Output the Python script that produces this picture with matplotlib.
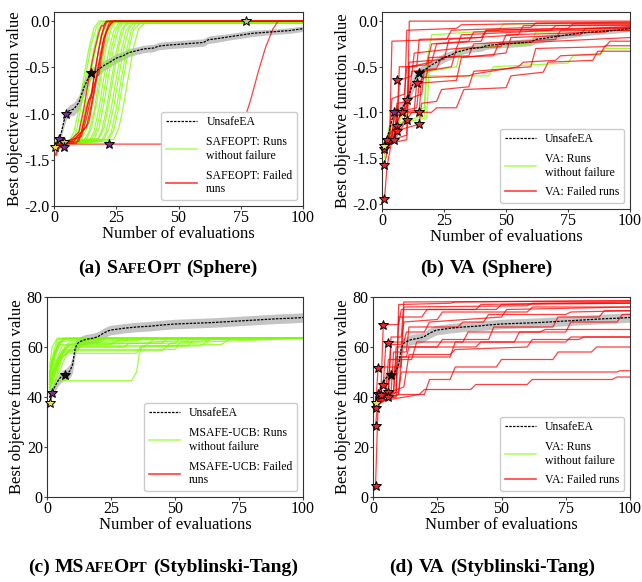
import numpy as np
import matplotlib
matplotlib.use("Agg")
import matplotlib.pyplot as plt
from matplotlib.lines import Line2D
from matplotlib.offsetbox import TextArea, HPacker, AnnotationBbox, DrawingArea

plt.rcParams['font.family'] = ['Liberation Serif', 'DejaVu Serif']
plt.rcParams['axes.unicode_minus'] = False

# ---------------- data ----------------
# UnsafeEA mean / spread, Sphere
sph_x = [1, 2, 3, 4, 5, 6, 8, 10, 11, 12, 13, 14, 15, 16, 18, 20, 22, 25, 28, 30, 33, 36, 40, 42, 45,
         50, 55, 60, 62, 65, 70, 75, 80, 85, 90, 95, 100]
sph_mean = [-1.36, -1.28, -1.2, -1.08, -1.0, -0.97, -0.95, -0.88, -0.8, -0.72, -0.66, -0.6, -0.57, -0.55,
            -0.52, -0.48, -0.45, -0.4, -0.37, -0.34, -0.32, -0.3, -0.29, -0.27, -0.26, -0.25, -0.24, -0.23,
            -0.2, -0.19, -0.17, -0.15, -0.13, -0.12, -0.11, -0.1, -0.08]
sph_sd = [0.02, 0.03, 0.05, 0.06, 0.06, 0.06, 0.07, 0.08, 0.09, 0.09, 0.08, 0.07, 0.06, 0.06, 0.06, 0.055,
          0.05, 0.05, 0.045, 0.045, 0.04, 0.04, 0.04, 0.04, 0.04, 0.04, 0.04, 0.04, 0.04, 0.04, 0.035, 0.035,
          0.035, 0.03, 0.03, 0.03, 0.03]

# UnsafeEA mean / spread, Styblinski-Tang
st_x = [1, 2, 3, 4, 5, 6, 7, 8, 9, 10, 11, 12, 13, 15, 18, 20, 22, 24, 25, 28, 30, 35, 40, 45, 50, 55,
        60, 65, 70, 75, 80, 85, 90, 95, 100]
st_mean = [37.7, 41.7, 44, 46, 47.5, 48.5, 49, 49.5, 50.5, 53, 59.5, 61.5, 62.2, 63, 63.5, 64.2, 65.5,
           66.5, 66.8, 67.2, 67.5, 68, 68.3, 68.8, 69.2, 69.4, 69.6, 69.8, 70.1, 70.4, 70.7, 71, 71.3,
           71.5, 71.8]
st_sd = [1, 1.5, 2, 2, 2.2, 2.2, 2.2, 2.4, 2.8, 3.2, 2.8, 2.2, 2, 2, 2, 2, 2, 2, 1.9, 1.9, 1.9, 1.9, 1.9,
         1.9, 1.9, 1.9, 1.9, 1.9, 1.9, 1.9, 1.9, 1.9, 1.9, 1.9, 1.9]

# (a) SafeOpt on Sphere
a_green_runs = [
    [(1, -1.33), (6, -1.3), (8, -1.2), (10, -0.95), (12, -0.6), (14, -0.3), (16, -0.08), (18, 0.0), (100, 0.0)],
    [(1, -1.35), (7, -1.31), (9, -1.2), (11, -0.9), (13, -0.55), (15, -0.25), (17, -0.07), (19, 0.0), (100, 0.0)],
    [(1, -1.32), (8, -1.3), (10, -1.18), (12, -0.92), (14, -0.6), (16, -0.3), (18, -0.08), (20, -0.01), (100, -0.01)],
    [(1, -1.3), (9, -1.28), (11, -1.15), (13, -0.9), (15, -0.55), (17, -0.25), (19, -0.06), (21, 0.0), (100, 0.0)],
    [(1, -1.34), (4, -1.3), (10, -1.29), (12, -1.18), (14, -0.95), (16, -0.62), (18, -0.3), (20, -0.1), (22, -0.01), (100, -0.01)],
    [(1, -1.31), (11, -1.28), (13, -1.17), (15, -0.92), (17, -0.6), (19, -0.3), (21, -0.09), (23, -0.01), (100, -0.01)],
    [(1, -1.33), (5, -1.3), (12, -1.29), (14, -1.2), (16, -0.98), (18, -0.65), (20, -0.33), (22, -0.1), (24, -0.01), (100, -0.01)],
    [(1, -1.3), (13, -1.28), (15, -1.16), (17, -0.9), (19, -0.58), (21, -0.27), (23, -0.08), (25, 0.0), (100, 0.0)],
    [(1, -1.32), (14, -1.3), (16, -1.2), (18, -0.95), (20, -0.62), (22, -0.32), (24, -0.1), (26, -0.02), (100, -0.02)],
    [(1, -1.34), (6, -1.31), (15, -1.29), (17, -1.18), (19, -0.93), (21, -0.6), (23, -0.3), (25, -0.09), (27, -0.01), (100, -0.01)],
    [(1, -1.3), (16, -1.28), (18, -1.17), (20, -0.9), (22, -0.58), (24, -0.28), (26, -0.08), (28, 0.0), (100, 0.0)],
    [(1, -1.33), (17, -1.3), (19, -1.2), (21, -0.96), (23, -0.64), (25, -0.33), (27, -0.1), (29, -0.02), (100, -0.02)],
    [(1, -1.31), (8, -1.28), (18, -1.27), (20, -1.16), (22, -0.9), (24, -0.58), (26, -0.28), (28, -0.08), (30, -0.01), (100, -0.01)],
    [(1, -1.32), (19, -1.3), (21, -1.19), (23, -0.94), (25, -0.62), (27, -0.32), (29, -0.1), (31, -0.02), (100, -0.02)],
    [(1, -1.3), (20, -1.28), (22, -1.17), (24, -0.92), (26, -0.6), (28, -0.3), (30, -0.09), (32, -0.01), (100, -0.01)],
    [(1, -1.33), (21, -1.3), (23, -1.2), (25, -0.95), (27, -0.63), (29, -0.33), (31, -0.1), (33, -0.02), (100, -0.02)],
    [(1, -1.31), (22, -1.28), (24, -1.18), (26, -0.93), (28, -0.6), (30, -0.3), (32, -0.09), (35, -0.01), (100, -0.01)],
    [(1, -1.3), (24, -1.28), (26, -1.16), (28, -0.9), (30, -0.58), (32, -0.28), (34, -0.08), (37, -0.01), (100, -0.01)],
]
a_red_runs = [
    [(1, -1.45), (2, -1.33), (9, -1.32), (11, -1.2), (13, -0.95), (14, -0.85), (15, -0.78), (17, -0.45), (19, -0.15), (21, -0.02), (22, 0.0), (100, 0.0)],
    [(1, -1.38), (4, -1.33), (10, -1.3), (12, -1.1), (14, -0.85), (15, -0.82), (16, -0.62), (18, -0.3), (20, -0.05), (21, 0.0), (100, 0.0)],
    [(1, -1.35), (5, -1.3), (11, -1.25), (13, -1.05), (15, -0.8), (16, -0.7), (17, -0.62), (18, -0.45), (20, -0.18), (22, -0.03), (23, 0.0), (100, 0.0)],
    [(1, -1.4), (6, -1.3), (10, -1.2), (12, -0.95), (14, -0.62), (16, -0.35), (18, -0.12), (19, -0.05), (20, -0.05), (21, 0.0), (100, 0.0)],
    [(1, -1.36), (7, -1.3), (13, -1.15), (15, -0.9), (17, -0.6), (18, -0.58), (19, -0.4), (21, -0.12), (23, -0.02), (24, 0.0), (100, 0.0)],
    [(1, -1.33), (8, -1.3), (14, -1.1), (16, -0.8), (18, -0.5), (20, -0.2), (22, -0.05), (24, 0.0), (100, 0.0)],
    [(0.5, -1.45), (2, -1.33), (70, -1.33), (73, -1.25), (76, -1.1), (79, -0.85), (82, -0.55), (85, -0.28), (88, -0.08), (90, 0.0), (100, 0.0)],
]
a_stars = [(0.5, -1.36, '#f0e442'), (2, -1.27, '#7b2d8e'), (4, -1.31, '#c9c36a'), (4, -1.36, '#7b2d8e'),
           (5, -1.0, '#7b2d8e'), (15, -0.56, '#111111'), (22, -1.33, '#7b2d8e'), (77, 0.0, '#c9c36a')]

# (b) VA on Sphere
b_green_runs = [
    [(1, -1.5), (3, -1.15), (15, -1.05), (17, -1.05), (18, -0.6), (43, -0.6), (45, -0.5), (75, -0.46), (77, -0.38), (88, -0.37), (90, -0.3), (100, -0.3)],
    [(1, -1.42), (8, -1.05), (17, -0.95), (18, -0.45), (20, -0.15), (47, -0.1), (49, -0.03), (100, -0.02)],
    [(1, -1.45), (3, -1.15), (18, -1.06), (19, -0.55), (30, -0.5), (32, -0.3), (60, -0.25), (62, -0.12), (100, -0.1)],
]
b_red_runs = [
    [(1, -1.35), (10, -1.3), (11, 0.0), (100, 0.0)],
    [(1, -1.4), (3, -1.38), (4, -0.22), (26, -0.2), (28, -0.1), (60, -0.07), (62, -0.02), (100, -0.02)],
    [(1, -1.95), (2, -1.6), (4, -1.3), (10, -1.25), (11, -0.5), (20, -0.45), (22, -0.25), (40, -0.22), (42, -0.1), (75, -0.08), (77, -0.03), (100, -0.03)],
    [(1, -1.58), (3, -1.3), (6, -1.2), (7, -0.65), (12, -0.6), (13, -0.35), (30, -0.3), (32, -0.15), (100, -0.06)],
    [(1, -1.4), (5, -1.3), (6, -1.0), (14, -0.95), (15, -0.68), (30, -0.65), (32, -0.4), (50, -0.35), (52, -0.18), (80, -0.15), (82, -0.08), (100, -0.08)],
    [(1, -1.37), (4, -1.3), (5, -1.0), (10, -0.95), (11, -0.45), (25, -0.42), (27, -0.2), (55, -0.15), (57, -0.05), (100, -0.04)],
    [(1, -1.3), (3, -1.25), (4, -0.85), (9, -0.8), (10, -0.5), (18, -0.48), (20, -0.25), (35, -0.22), (37, -0.12), (68, -0.1), (70, -0.05), (100, -0.05)],
    [(1, -1.45), (6, -1.2), (15, -1.13), (16, -0.9), (22, -0.88), (24, -0.75), (35, -0.72), (37, -0.55), (60, -0.5), (62, -0.3), (90, -0.28), (92, -0.22), (100, -0.22)],
    [(1, -1.4), (5, -1.3), (10, -1.08), (12, -1.0), (20, -1.0), (22, -0.95), (30, -0.95), (33, -0.75), (50, -0.73), (52, -0.6), (65, -0.56), (67, -0.45), (85, -0.43), (87, -0.33), (100, -0.33)],
    [(1, -1.35), (8, -1.0), (15, -1.0), (16, -0.62), (35, -0.6), (37, -0.58), (55, -0.5), (57, -0.45), (70, -0.43), (72, -0.38), (88, -0.36), (90, -0.27), (100, -0.27)],
    [(1, -1.3), (2, -1.28), (6, -1.15), (7, -0.5), (14, -0.5), (15, -0.2), (40, -0.18), (42, -0.1), (100, -0.07)],
    [(1, -1.37), (5, -1.3), (6, -1.18), (9, -1.1), (10, -0.86), (16, -0.8), (17, -0.55), (28, -0.5), (30, -0.3), (48, -0.28), (50, -0.15), (90, -0.12), (92, -0.1), (100, -0.1)],
    [(1, -1.4), (2, -1.3), (5, -1.3), (6, -0.9), (11, -0.88), (12, -0.55), (22, -0.52), (24, -0.4), (45, -0.38), (47, -0.25), (100, -0.18)],
    [(1, -1.38), (3, -1.3), (8, -1.0), (13, -0.98), (14, -0.68), (18, -0.6), (19, -0.4), (35, -0.38), (37, -0.25), (70, -0.2), (72, -0.1), (100, -0.1)],
    [(1, -1.35), (4, -1.25), (5, -1.05), (9, -1.0), (10, -0.1), (30, -0.08), (32, -0.04), (100, -0.01)],
]
b_stars = [(1, -1.95, '#e8262a'), (1, -1.58, '#e8262a'), (1, -1.4, '#e8262a'), (1, -1.37, '#f0e442'),
           (2, -1.3, '#e8262a'), (5, -1.3, '#e8262a'), (5, -1.0, '#7b2d8e'), (6, -1.15, '#e8262a'),
           (6, -1.2, '#e8262a'), (6, -0.65, '#e8262a'), (8, -1.0, '#e8262a'), (10, -0.86, '#e8262a'),
           (10, -1.08, '#e8262a'), (14, -0.68, '#e8262a'), (15, -0.57, '#111111'), (15, -1.0, '#e8262a'),
           (15, -1.13, '#e8262a')]

# (c) MSafeOpt on Styblinski-Tang
c_green_runs = [
    [(1, 45), (3, 55), (5, 62), (7, 63.5), (100, 63.5)],
    [(1, 48), (2, 56), (4, 63), (6, 63.5), (100, 63.5)],
    [(1, 42), (4, 52), (7, 60), (9, 62), (30, 62), (32, 63.5), (100, 63.5)],
    [(1, 50), (3, 58), (5, 61), (20, 61.5), (23, 63.5), (100, 63.5)],
    [(1, 44), (3, 47), (5, 46.5), (33, 46.5), (35, 50), (36, 57), (37, 60), (60, 60.5), (64, 63), (100, 63.5)],
    [(1, 46), (5, 55), (8, 57.5), (35, 57.5), (37, 60.5), (68, 61), (72, 63.5), (100, 63.5)],
    [(1, 47), (4, 54), (7, 58.5), (45, 58.5), (48, 61.5), (100, 63.5)],
    [(1, 43), (3, 50), (6, 59), (9, 60), (38, 60), (40, 62), (55, 62.5), (57, 63.5), (100, 63.5)],
    [(1, 52), (2, 60), (4, 63.5), (100, 63.5)],
    [(1, 40), (4, 48), (8, 58), (11, 59), (50, 59), (52, 62), (62, 62.5), (65, 63.5), (100, 63.5)],
    [(1, 49), (3, 57), (6, 62.5), (8, 63.5), (100, 63.5)],
    [(1, 46), (3, 53), (6, 60.5), (25, 61), (28, 62.8), (100, 63.5)],
    [(1, 44), (4, 51), (7, 59.5), (10, 61.5), (45, 61.5), (47, 63.5), (100, 63.5)],
    [(1, 50), (2, 55), (5, 62), (8, 62.5), (35, 62.5), (37, 63.5), (100, 63.5)],
    [(1, 41), (3, 46), (6, 56), (10, 60), (30, 60), (32, 61.5), (50, 61.5), (52, 63.5), (100, 63.5)],
    [(1, 47), (3, 58), (5, 63.3), (100, 63.5)],
    [(1, 45), (5, 57), (9, 61), (40, 61.5), (42, 63.5), (100, 63.5)],
    [(1, 43), (2, 48), (4, 55), (7, 59), (12, 59), (14, 62), (20, 62), (22, 63.5), (100, 63.5)],
    [(1, 48), (4, 61), (6, 63), (100, 63.5)],
    [(1, 46), (3, 50), (6, 58), (10, 58), (12, 60.5), (55, 60.5), (57, 63), (100, 63.5)],
]
c_red_runs = []
c_stars = [(1, 37.7, '#f0e442'), (2, 41.7, '#7b2d8e'), (7, 48.8, '#111111')]

# (d) VA on Styblinski-Tang
d_green_runs = []
d_red_runs = [
    [(1, 38), (9, 40), (10, 77), (30, 77.5), (32, 78), (100, 78.5)],
    [(1, 40), (3, 40), (4, 69), (10, 69), (11, 75), (40, 75), (42, 77), (100, 78)],
    [(1, 36), (2, 52), (11, 52), (12, 76), (60, 76.5), (62, 77.5), (100, 77.5)],
    [(1, 38), (6, 42), (7, 62), (12, 62), (13, 66), (20, 66), (22, 70), (50, 72), (52, 75), (100, 76)],
    [(1, 39), (8, 42), (9, 60), (25, 60), (27, 63), (45, 63), (47, 68), (70, 68), (72, 72), (88, 72), (90, 74.5), (100, 74.5)],
    [(1, 37), (10, 41), (11, 56), (30, 56), (32, 62), (55, 62), (57, 66), (75, 66), (77, 70), (95, 70), (97, 73), (100, 73)],
    [(1, 5), (2, 38), (8, 42), (9, 56), (13, 56), (14, 60), (40, 60), (42, 62), (75, 62), (77, 64), (100, 64)],
    [(1, 28.5), (2, 40), (10, 42), (11, 50), (95, 50), (96, 50.5), (100, 50.5)],
    [(1, 38), (18, 41), (20, 43), (38, 43), (40, 45), (60, 45), (62, 47), (93, 47), (95, 48), (100, 48)],
    [(1, 39), (10, 41), (20, 41), (22, 47), (30, 47), (32, 52), (48, 52), (50, 55), (70, 55), (72, 58), (85, 58), (87, 60), (100, 60)],
    [(1, 40), (12, 44), (14, 57), (30, 57), (32, 59), (60, 60), (62, 63), (80, 63), (82, 64), (100, 64)],
    [(1, 35.5), (5, 42), (6, 55), (15, 55), (17, 62), (35, 62), (37, 66), (65, 66), (67, 67), (100, 67)],
    [(1, 38), (4, 45), (5, 61), (11, 61), (12, 70), (25, 71), (27, 74), (60, 74), (62, 76), (100, 76)],
    [(1, 39), (6, 43), (7, 64), (11, 64), (12, 78), (100, 78.5)],
    [(1, 36), (9, 42), (10, 72), (19, 72), (21, 75), (48, 75), (50, 77), (100, 77.5)],
    [(1, 38), (7, 41), (8, 58), (13, 58), (14, 68), (33, 68), (35, 70), (43, 70), (45, 73), (75, 73), (77, 74), (100, 74.5)],
]
d_stars = [(1, 4.5, '#e8262a'), (1, 28.5, '#e8262a'), (1, 35.5, '#e8262a'), (1, 37.7, '#f0e442'),
           (2, 41.2, '#7b2d8e'), (2, 51.5, '#e8262a'), (4, 68.8, '#e8262a'), (6, 61.5, '#e8262a'),
           (4, 45, '#e8262a'), (6, 42, '#e8262a'), (6, 40, '#e8262a'), (3, 41, '#e8262a'),
           (7, 48.8, '#111111')]

GREEN = '#7cfc00'
RED = '#ff0000'


def draw_panel(ax, ux, uy, usd, green_runs, red_runs, stars, ylim, yticks, ytick_labels, name, failed_label):
    ux = np.array(ux)
    uy = np.array(uy)
    usd = np.array(usd)
    ax.fill_between(ux, uy - usd, uy + usd, color='#c4c4c4', lw=0, zorder=1)
    for run in green_runs:
        x, y = zip(*run)
        ax.plot(x, y, color=GREEN, alpha=0.75, lw=0.9, zorder=2)
    for run in red_runs:
        x, y = zip(*run)
        ax.plot(x, y, color=RED, alpha=0.75, lw=0.9, zorder=3)
    ax.plot(ux, uy, color='black', ls=(0, (2, 1)), lw=0.9, zorder=4)
    for sx, sy, sc in stars:
        ax.plot(sx, sy, marker='*', ms=7, mfc=sc, mec='black', mew=0.7, zorder=5, clip_on=False)

    ax.set_xlim(0, 100)
    ax.set_ylim(*ylim)
    ax.set_xticks([0, 25, 50, 75, 100])
    ax.set_yticks(yticks)
    ax.set_yticklabels(ytick_labels)
    ax.tick_params(labelsize=11.5, length=2, pad=1, color='#444444')
    ax.set_xlabel('Number of evaluations', fontsize=12, labelpad=0)
    ax.set_ylabel('Best objective function value', fontsize=12, labelpad=1)
    for s in ax.spines.values():
        s.set_color('#333333')
        s.set_linewidth(0.8)

    handles = [Line2D([], [], color='black', ls=(0, (2, 1)), lw=0.9),
               Line2D([], [], color=GREEN, alpha=0.6, lw=1.2),
               Line2D([], [], color=RED, alpha=0.75, lw=1.2)]
    labels = ['UnsafeEA', name + ': Runs\nwithout failure', failed_label]
    leg = ax.legend(handles, labels, loc='lower right', fontsize=8.5, handlelength=2.6,
                    labelspacing=0.65, framealpha=1.0, edgecolor='#cccccc')
    leg.set_zorder(10)


def caption(fig, x, y, pieces):
    boxes = []
    for text, small in pieces:
        if text == ' ':
            boxes.append(DrawingArea(4, 1))
            continue
        boxes.append(TextArea(text, textprops=dict(fontsize=10.5 if small else 14, fontweight='bold',
                                                   family='Liberation Serif')))
    pack = HPacker(children=boxes, align='baseline', pad=0, sep=0)
    ab = AnnotationBbox(pack, (x, 582 - y), xycoords='figure pixels', frameon=False,
                        box_alignment=(0.5, 0.5))
    fig.add_artist(ab)


W, H = 642, 582
fig = plt.figure(figsize=(W / 100, H / 100), dpi=100)


def add_axes(l, r, t, b):
    return fig.add_axes([l / W, 1 - b / H, (r - l) / W, (b - t) / H])


sph_ticks = [-2.0, -1.5, -1.0, -0.5, 0.0]
sph_labels = ['-2.0', '-1.5', '-1.0', '-0.5', '0.0']
st_ticks = [0, 20, 40, 60, 80]
st_labels = ['0', '20', '40', '60', '80']

ax_a = add_axes(54, 303, 12, 206)
draw_panel(ax_a, sph_x, sph_mean, sph_sd, a_green_runs, a_red_runs, a_stars, (-2.0, 0.1),
           sph_ticks, sph_labels, 'SAFEOPT', 'SAFEOPT: Failed\nruns')

ax_b = add_axes(382, 630, 12, 209)
draw_panel(ax_b, sph_x, sph_mean, sph_sd, b_green_runs, b_red_runs, b_stars, (-2.06, 0.1),
           sph_ticks, sph_labels, 'VA', 'VA: Failed runs')

ax_c = add_axes(47, 303, 297, 497)
draw_panel(ax_c, st_x, st_mean, st_sd, c_green_runs, c_red_runs, c_stars, (0, 80),
           st_ticks, st_labels, 'MSAFE-UCB', 'MSAFE-UCB: Failed\nruns')

ax_d = add_axes(373, 630, 297, 497)
draw_panel(ax_d, st_x, st_mean, st_sd, d_green_runs, d_red_runs, d_stars, (0, 80),
           st_ticks, st_labels, 'VA', 'VA: Failed runs')

caption(fig, 168, 268, [('(a)', False), (' ', False), ('S', False), ('AFE', True), ('O', False),
                        ('PT', True), (' ', False), ('(Sphere)', False)])
caption(fig, 486, 268, [('(b)', False), (' ', False), ('VA', False), (' ', False), ('(Sphere)', False)])
caption(fig, 163, 567, [('(c)', False), (' ', False), ('MS', False), ('AFE', True), ('O', False),
                        ('PT', True), (' ', False), ('(Styblinski-Tang)', False)])
caption(fig, 492, 567, [('(d)', False), (' ', False), ('VA', False), (' ', False),
                        ('(Styblinski-Tang)', False)])

fig.savefig('out.png', dpi=100)
